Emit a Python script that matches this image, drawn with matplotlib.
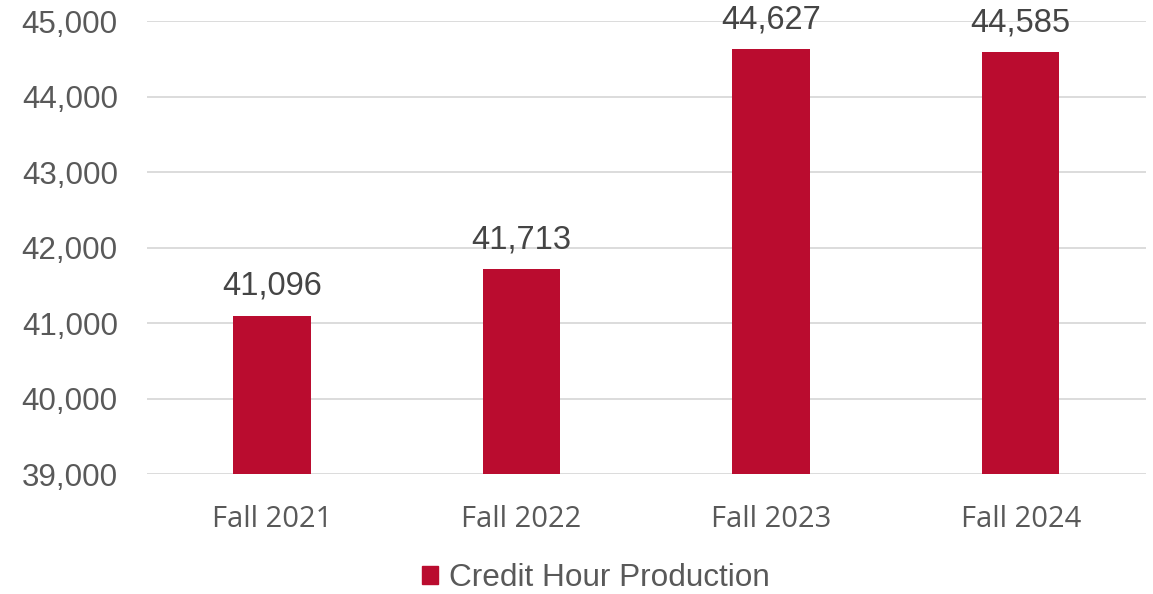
import matplotlib.pyplot as plt
from matplotlib.patches import Patch
from matplotlib.ticker import FuncFormatter

# ==============================
# Data
# ==============================

terms = ["Fall 2021", "Fall 2022", "Fall 2023", "Fall 2024"]
credit_hours = [41096, 41713, 44627, 44585]
series_name = "Credit Hour Production"

bar_color = "#BA0C2F"
text_color = "#595959"
grid_color = "#D9D9D9"

plt.rcParams["font.family"] = ["Liberation Sans", "DejaVu Sans"]

# ==============================
# Chart
# ==============================

fig = plt.figure(figsize=(11.53, 5.94), dpi=100)
ax = fig.add_axes([0.1275, 0.202, 0.866, 0.7626])

x = range(len(terms))
bars = ax.bar(x, credit_hours, width=0.31, color=bar_color, zorder=3)

ax.set_ylim(39000, 45000)
ax.set_xlim(-0.5, len(terms) - 0.5)
ax.set_yticks(range(39000, 45001, 1000))
ax.yaxis.set_major_formatter(FuncFormatter(lambda v, p: f"{int(v):,}"))
ax.grid(axis="y", color=grid_color, linewidth=1.3, zorder=0)

ax.set_xticks(list(x))
ax.set_xticklabels(terms, family=["Open Sans", "DejaVu Sans"])
ax.tick_params(axis="x", length=0, pad=22, labelsize=21, labelcolor=text_color)
ax.tick_params(axis="y", length=0, pad=21, labelsize=22.6, labelcolor=text_color)

for s in ax.spines.values():
    s.set_visible(False)

for b, v in zip(bars, credit_hours):
    ax.annotate(f"{v:,}", (b.get_x() + b.get_width() / 2, v),
                xytext=(0, 10), textcoords="offset points",
                ha="center", va="bottom", fontsize=23.5, color="#454545",
                annotation_clip=False)

handle = Patch(color=bar_color, label=series_name)
fig.legend(handles=[handle], loc="center", bbox_to_anchor=(0.517, 0.027),
           frameon=False, fontsize=22.7, labelcolor=text_color,
           handlelength=0.5, handleheight=0.5, handletextpad=0.35)

plt.savefig("out.png", dpi=100)
plt.close()
